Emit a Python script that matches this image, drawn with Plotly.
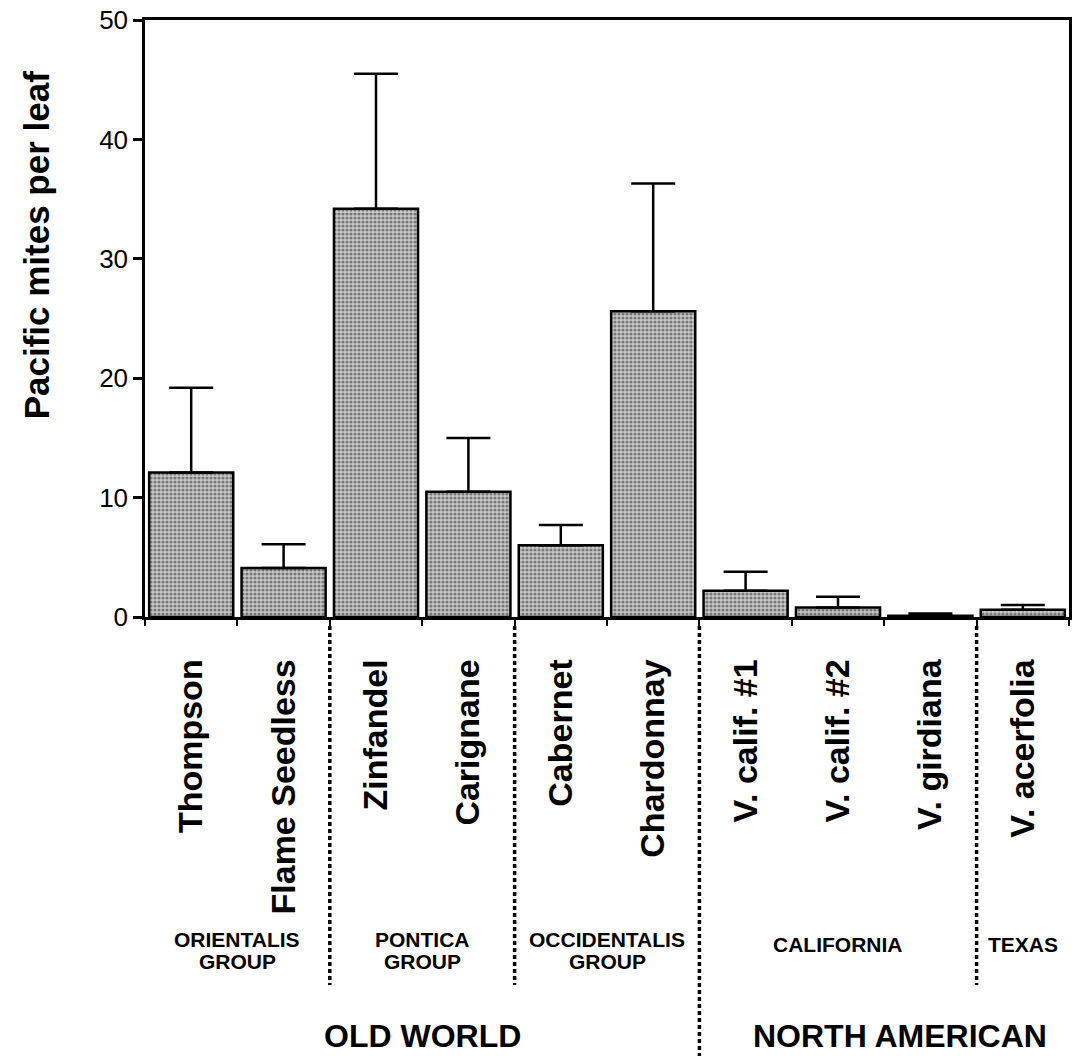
import plotly.graph_objects as go

# ---- data ----
varieties = ["Thompson", "Flame Seedless", "Zinfandel", "Carignane", "Cabernet",
             "Chardonnay", "V. calif. #1", "V. calif. #2", "V. girdiana", "V. acerfolia"]
mites = [12.1, 4.1, 34.2, 10.5, 6.0, 25.6, 2.2, 0.8, 0.1, 0.6]
se_upper = [7.1, 2.0, 11.3, 4.5, 1.7, 10.7, 1.6, 0.9, 0.2, 0.4]

group_lines = [["ORIENTALIS", "GROUP"], ["PONTICA", "GROUP"], ["OCCIDENTALIS", "GROUP"],
               ["CALIFORNIA"], ["TEXAS"]]
group_sizes = [2, 2, 2, 3, 1]
region_names = ["OLD WORLD", "NORTH AMERICAN"]
region_group_counts = [3, 2]

y_ticks = [0, 10, 20, 30, 40, 50]

# ---- layout helpers (pixels -> paper) ----
W, H = 1075, 1056
ML, MR, MT, MB = 145, 3, 20, 439
PLOT_H = H - MT - MB
PLOT_W = W - ML - MR
def py(px):
    return (H - MB - px) / PLOT_H
def pxp(px):
    return (px - ML) / PLOT_W

FONT = "Liberation Sans, Arial, sans-serif"

fig = go.Figure()
fig.add_trace(go.Bar(
    x=varieties, y=mites,
    marker=dict(color="#b0b0b0",
                line=dict(color="black", width=2.5),
                pattern=dict(shape=".", fgcolor="#2a2a2a", bgcolor="#c8c8c8",
                             size=4, solidity=0.5)),
    error_y=dict(type="data", symmetric=False, array=se_upper,
                 arrayminus=[0] * len(se_upper), color="black",
                 thickness=2.5, width=22),
    showlegend=False,
))

shapes = []
annotations = []
GF = dict(family=FONT, size=21, color="black", weight="bold")

# group boundaries and labels
start = 0
bounds = []
for lines, n in zip(group_lines, group_sizes):
    center = start + (n - 1) / 2
    if len(lines) == 2:
        annotations.append(dict(x=center, y=py(940), xref="x", yref="paper",
                                text=lines[0], showarrow=False, xanchor="center", yanchor="middle",
                                font=GF))
        annotations.append(dict(x=center, y=py(961), xref="x", yref="paper",
                                text=lines[1], showarrow=False, xanchor="center", yanchor="middle",
                                font=GF))
    else:
        annotations.append(dict(x=center, y=py(945), xref="x", yref="paper",
                                text=lines[0], showarrow=False, xanchor="center", yanchor="middle",
                                font=GF))
    start += n
    bounds.append(start - 0.5)
bounds = bounds[:-1]

# region boundaries
g_idx = 0
cat_start = 0
region_bounds = []
for i, (name, gc) in enumerate(zip(region_names, region_group_counts)):
    n = sum(group_sizes[g_idx:g_idx + gc])
    center = cat_start + (n - 1) / 2
    annotations.append(dict(x=center, y=py(1056), xref="x", yref="paper",
                            text=name, showarrow=False, xanchor="center", yanchor="bottom",
                            xshift=(0 if i == 0 else 16),
                            font=dict(family=FONT, size=32, color="black", weight="bold")))
    g_idx += gc
    cat_start += n
    region_bounds.append(cat_start - 0.5)
region_bounds = region_bounds[:-1]

for b in bounds:
    y_end = py(1056) if b in region_bounds else py(985)
    shapes.append(dict(type="line", xref="x", yref="paper", x0=b, x1=b,
                       y0=py(626), y1=y_end,
                       line=dict(color="black", width=3.5, dash="4px,3px")))

# y-axis title
annotations.append(dict(x=pxp(37), y=py(245), xref="paper", yref="paper",
                        text="Pacific mites per leaf", textangle=-90, showarrow=False,
                        xanchor="center", yanchor="middle",
                        font=dict(family=FONT, size=35, color="black", weight="bold")))

fig.update_layout(
    width=W, height=H,
    margin=dict(l=ML, r=MR, t=MT, b=MB),
    paper_bgcolor="white", plot_bgcolor="white",
    bargap=0.09,
    shapes=shapes, annotations=annotations,
    font=dict(family=FONT, color="black"),
)
fig.update_xaxes(
    type="category", showline=True, linecolor="black", linewidth=2.5, mirror=True,
    ticks="outside", tickson="boundaries", ticklen=6, tickwidth=2, tickcolor="black",
    tickangle=-90, ticklabelstandoff=26,
    tickfont=dict(family=FONT, size=34, color="black", weight="bold"),
    showgrid=False, zeroline=False,
)
fig.update_yaxes(
    range=[0, 50], tickvals=y_ticks, showline=True, linecolor="black", linewidth=2.5,
    mirror=True, ticks="outside", ticklen=9, tickwidth=2.5, tickcolor="black",
    tickfont=dict(family=FONT, size=26, color="black"),
    showgrid=False, zeroline=False,
)

fig.write_html("out.html", config={"displayModeBar": False},
               post_script="document.body.style.margin='0';document.body.style.padding='0';")
